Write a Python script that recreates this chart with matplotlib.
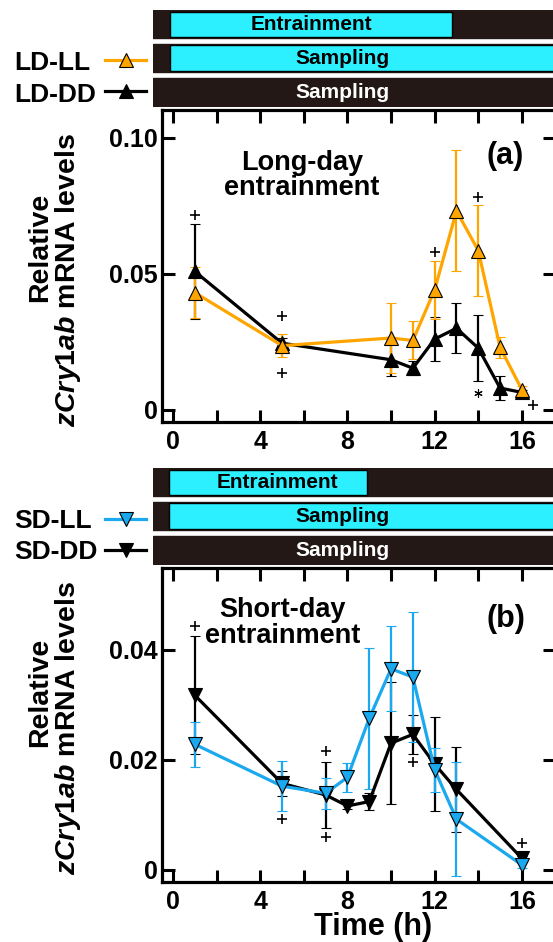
import matplotlib
matplotlib.use("Agg")
import matplotlib.pyplot as plt
from matplotlib.lines import Line2D
from matplotlib.ticker import MultipleLocator

plt.rcParams['font.family'] = ['Liberation Sans', 'DejaVu Sans']
plt.rcParams['font.weight'] = 'bold'
plt.rcParams['mathtext.fontset'] = 'custom'
plt.rcParams['mathtext.it'] = 'Liberation Sans:italic:bold'
plt.rcParams['mathtext.rm'] = 'Liberation Sans:bold'

# ---- data ----
hours_a = [1, 5, 10, 11, 12, 13, 14, 15, 16]
ld_ll = [0.0431, 0.0236, 0.0264, 0.0255, 0.0441, 0.0732, 0.0586, 0.0230, 0.0074]
ld_ll_err = [0.0093, 0.0042, 0.0129, 0.0070, 0.0108, 0.0223, 0.0169, 0.0038, 0.0015]
ld_dd = [0.0509, 0.0245, 0.0184, 0.0153, 0.0260, 0.0300, 0.0227, 0.0080, 0.0064]
ld_dd_err = [0.0174, 0.0018, 0.0060, 0.0025, 0.0080, 0.0092, 0.0122, 0.0045, 0.0010]

hours_b = [1, 5, 7, 8, 9, 10, 11, 12, 13, 16]
sd_ll = [0.0228, 0.0152, 0.0139, 0.0168, 0.0275, 0.0365, 0.0350, 0.0182, 0.0092, 0.0009]
sd_ll_err = [0.0041, 0.0046, 0.0028, 0.0026, 0.0128, 0.0077, 0.0118, 0.0040, 0.0103, 0.0005]
sd_dd = [0.0317, 0.0157, 0.0136, 0.0116, 0.0124, 0.0230, 0.0246, 0.0192, 0.0146, 0.0021]
sd_dd_err = [0.0107, 0.0023, 0.0060, 0.0005, 0.0016, 0.0111, 0.0036, 0.0085, 0.0077, 0.0005]

# significance marks
plus_a_x = [1, 5, 5, 12, 14, 16.5]
plus_a_y = [0.0717, 0.0346, 0.0137, 0.0582, 0.0784, 0.0018]
star_a_x = [14]
star_a_y = [0.0061]
plus_b_x = [1, 5, 7, 7, 11, 16]
plus_b_y = [0.0443, 0.0092, 0.0215, 0.0059, 0.0196, 0.0049]

# light phase (h) of entrainment, and end of the bar scale
ld_light = (-0.15, 12.8)
sd_light = (-0.2, 8.9)
bar_end = 18.0

yticks_a = [0, 0.05, 0.10]
yticks_a_lab = ['0', '0.05', '0.10']
yticks_b = [0, 0.02, 0.04]
yticks_b_lab = ['0', '0.02', '0.04']
xticks = [0, 4, 8, 12, 16]

ORANGE = '#FFA500'
BLUE = '#1AA8EE'
CYAN = '#2CF0FF'
DARK = '#231815'

W, H = 553, 942
fig = plt.figure(figsize=(W / 100, H / 100), dpi=100)


def fx(px):
    return px / W


def fy(py):
    return 1 - py / H


XLIM = (-0.505, 17.52)
PXH = 21.8  # pixels per hour
ROW = 34 / 28  # bar row pitch, in bar heights


def make_panel(top, bottom, ylim, yt, ytl):
    ax = fig.add_axes([fx(162), fy(bottom), fx(555) - fx(162), fy(top) - fy(bottom)])
    ax.set_xlim(*XLIM)
    ax.set_ylim(*ylim)
    ax.set_xticks(xticks)
    ax.set_xticklabels([str(v) for v in xticks])
    ax.xaxis.set_minor_locator(MultipleLocator(2))
    ax.set_yticks(yt)
    ax.set_yticklabels(ytl)
    ax.tick_params(which='both', direction='in', top=True, right=True,
                   length=9, width=2.2, labelsize=18)
    ax.tick_params(axis='x', pad=6)
    ax.tick_params(axis='y', pad=3)
    for s in ax.spines.values():
        s.set_linewidth(2.3)
    for lab in ax.get_xticklabels() + ax.get_yticklabels():
        lab.set_fontweight('bold')
    return ax


def series(ax, x, y, e, color, marker):
    ax.errorbar(x, y, yerr=e, color=color, lw=2.3, marker=marker, ms=10,
                mfc=color, mec='black', mew=0.8, ecolor=color,
                elinewidth=1.6, capsize=3.6, capthick=1.6)


def bars(top, light, ent_x):
    bx = fig.add_axes([fx(153), fy(top + 96), fx(555) - fx(153), 96 / H])
    left = XLIM[0] - 9 / PXH
    bx.set_xlim(left, XLIM[1])
    bx.set_ylim(2 * ROW + 1, 0)
    bx.axis('off')
    for i in range(3):
        bx.broken_barh([(left, bar_end - left)], (i * ROW, 1), color=DARK)
    bx.broken_barh([(light[0], light[1] - light[0])], (0.07, 0.88),
                   facecolor=CYAN, edgecolor='black', lw=1)
    bx.broken_barh([(light[0], bar_end - light[0])], (ROW + 0.05, 0.9),
                   facecolor=CYAN, edgecolor='black', lw=1)
    bx.text(ent_x, 0.5, 'Entrainment', ha='center', va='center', fontsize=15,
            fontweight='bold', color='black')
    bx.text(7.75, ROW + 0.5, 'Sampling', ha='center', va='center',
            fontsize=15, fontweight='bold', color='black')
    bx.text(7.75, 2 * ROW + 0.5, 'Sampling', ha='center', va='center',
            fontsize=15, fontweight='bold', color='white')


def legend_row(label, color, marker, ytext, yline):
    fig.text(fx(14), fy(ytext), label, ha='left', va='baseline', fontsize=19,
             fontweight='bold')
    fig.add_artist(Line2D([fx(105), fx(146)], [fy(yline), fy(yline)], color=color,
                          lw=2.3, transform=fig.transFigure))
    fig.add_artist(Line2D([fx(126)], [fy(yline)], color=color, marker=marker,
                          ms=10, mfc=color, mec='black', mew=0.8,
                          transform=fig.transFigure))


def ylabel(y1, y2):
    fig.text(fx(40), fy(y1), 'Relative', rotation=90, ha='center', va='center',
             fontsize=20.5, fontweight='bold')
    fig.text(fx(68), fy(y2), r'$\mathit{zCry1ab}$ mRNA levels', rotation=90,
             ha='center', va='center', fontsize=20.5, fontweight='bold')


# ---- panel (a) ----
bars(10, ld_light, 6.33)
legend_row('LD-LL', ORANGE, '^', 70, 60)
legend_row('LD-DD', 'black', '^', 102, 91)
ax1 = make_panel(110, 422, (-0.0045, 0.1103), yticks_a, yticks_a_lab)
series(ax1, hours_a, ld_dd, ld_dd_err, 'black', '^')
series(ax1, hours_a, ld_ll, ld_ll_err, ORANGE, '^')
ax1.plot(plus_a_x, plus_a_y, '+', color='black', ms=7, mew=1.2, clip_on=False)
ax1.plot(star_a_x, star_a_y, marker=(6, 2, 0), ls='none', color='black', ms=6, mew=0.8)
fig.text(fx(302), fy(170), 'Long-day', ha='center', va='baseline', fontsize=19.5)
fig.text(fx(302), fy(195), 'entrainment', ha='center', va='baseline', fontsize=19.5)
fig.text(fx(505), fy(164), '(a)', ha='center', va='baseline', fontsize=22)
ylabel(247, 280)

# ---- panel (b) ----
bars(468, sd_light, 4.8)
legend_row('SD-LL', BLUE, 'v', 528, 519)
legend_row('SD-DD', 'black', 'v', 559, 550)
ax2 = make_panel(568, 882, (-0.0022, 0.0548), yticks_b, yticks_b_lab)
series(ax2, hours_b, sd_dd, sd_dd_err, 'black', 'v')
series(ax2, hours_b, sd_ll, sd_ll_err, BLUE, 'v')
ax2.plot(plus_b_x, plus_b_y, '+', color='black', ms=7, mew=1.2, clip_on=False)
fig.text(fx(283), fy(617), 'Short-day', ha='center', va='baseline', fontsize=19.5)
fig.text(fx(283), fy(643), 'entrainment', ha='center', va='baseline', fontsize=19.5)
fig.text(fx(506), fy(627), '(b)', ha='center', va='baseline', fontsize=22)
fig.text(fx(373), fy(935), 'Time (h)', ha='center', va='baseline', fontsize=22)
ylabel(692, 728)

fig.savefig('out.png', dpi=100)
